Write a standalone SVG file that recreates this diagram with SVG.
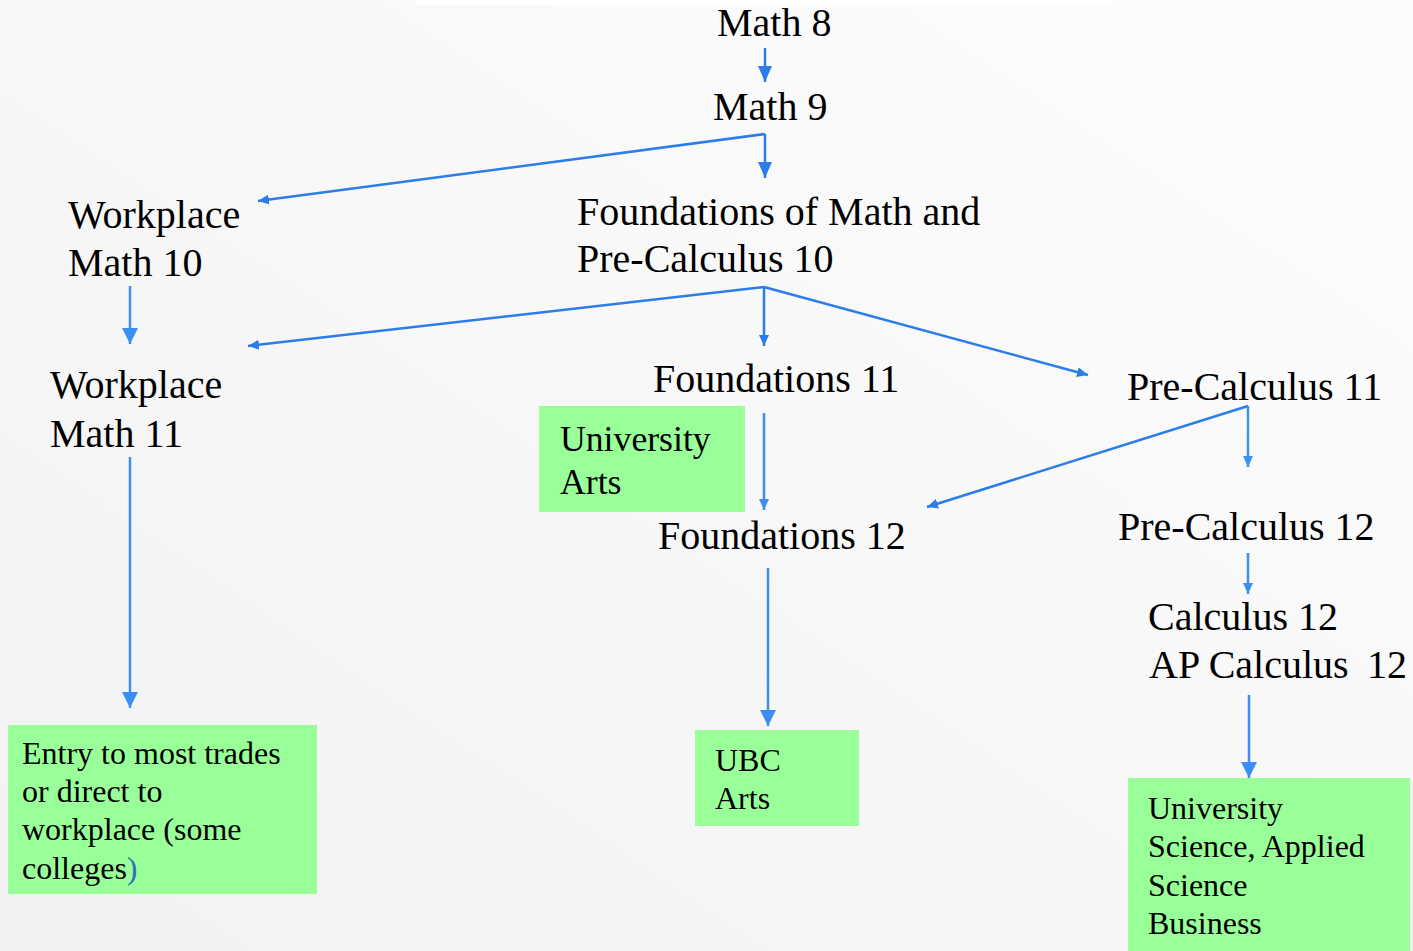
<svg xmlns="http://www.w3.org/2000/svg" width="1413" height="951" viewBox="0 0 1413 951">
<defs>
<linearGradient id="bg" x1="1" y1="0" x2="0" y2="1">
<stop offset="0" stop-color="#fdfdfd"/>
<stop offset="1" stop-color="#f2f2f2"/>
</linearGradient>
<marker id="ah" markerUnits="userSpaceOnUse" markerWidth="17" markerHeight="14" refX="16" refY="7" orient="auto">
<path d="M0,0 L16,7 L0,14 Z" fill="#2b7de9"/>
</marker>
<marker id="as" markerUnits="userSpaceOnUse" markerWidth="12" markerHeight="10" refX="11" refY="5" orient="auto">
<path d="M0,0 L11,5 L0,10 Z" fill="#2b7de9"/>
</marker>
<marker id="al" markerUnits="userSpaceOnUse" markerWidth="17" markerHeight="16" refX="16" refY="8" orient="auto">
<path d="M0,0 L16,8 L0,16 Z" fill="#3d8ef2"/>
</marker>
<marker id="als" markerUnits="userSpaceOnUse" markerWidth="12" markerHeight="10" refX="11" refY="5" orient="auto">
<path d="M0,0 L11,5 L0,10 Z" fill="#3d8ef2"/>
</marker>
</defs>
<style>
.t{font-family:"Liberation Serif","Times New Roman",serif;font-size:40px;fill:#000}
.s{font-family:"Liberation Serif","Times New Roman",serif;font-size:32px;fill:#000}
.u{font-family:"Liberation Serif","Times New Roman",serif;font-size:35.7px;fill:#000}
.box{fill:#99ff99}
.c{stroke:#2b7de9;stroke-width:2.5;fill:none}
.cl{stroke:#3d8ef2;stroke-width:2.5;fill:none}
</style>
<rect width="1413" height="951" fill="url(#bg)"/>
<rect x="415" y="0" width="698" height="5" fill="#ffffff"/>

<g id="connectors">
<line class="c" x1="765" y1="48" x2="765" y2="82" marker-end="url(#ah)"/>
<line class="c" x1="765" y1="134" x2="258" y2="201" marker-end="url(#as)"/>
<line class="c" x1="765" y1="134" x2="765" y2="178" marker-end="url(#ah)"/>
<line class="cl" x1="130" y1="286" x2="130" y2="344" marker-end="url(#al)"/>
<line class="c" x1="764" y1="287" x2="248" y2="346" marker-end="url(#as)"/>
<line class="c" x1="764" y1="287" x2="764" y2="346" marker-end="url(#as)"/>
<line class="c" x1="764" y1="287" x2="1088" y2="375" marker-end="url(#as)"/>
<line class="cl" x1="764" y1="413" x2="764" y2="510" marker-end="url(#als)"/>
<line class="c" x1="1248" y1="406" x2="927" y2="507" marker-end="url(#as)"/>
<line class="cl" x1="1248" y1="406" x2="1248" y2="467" marker-end="url(#als)"/>
<line class="cl" x1="1248" y1="553" x2="1248" y2="594" marker-end="url(#als)"/>
<line class="cl" x1="130" y1="457" x2="130" y2="708" marker-end="url(#al)"/>
<line class="cl" x1="768" y1="568" x2="768" y2="726" marker-end="url(#al)"/>
<line class="cl" x1="1249" y1="695" x2="1249" y2="778" marker-end="url(#al)"/>
</g>

<g id="math8"><text class="t" x="717" y="36">Math 8</text></g>
<g id="math9"><text class="t" x="713" y="120">Math 9</text></g>
<g id="workplace10"><text class="t" x="68" y="228">Workplace</text><text class="t" x="68" y="276">Math 10</text></g>
<g id="foundations10"><text class="t" x="577" y="225">Foundations of Math and</text><text class="t" x="577" y="272">Pre-Calculus 10</text></g>
<g id="workplace11"><text class="t" x="50" y="398">Workplace</text><text class="t" x="50" y="447">Math 11</text></g>
<g id="foundations11"><text class="t" x="653" y="392">Foundations 11</text></g>
<g id="precalc11"><text class="t" x="1127" y="400">Pre-Calculus 11</text></g>
<g id="univarts"><rect class="box" x="539" y="406" width="206" height="106"/><text class="u" x="560" y="451">University</text><text class="u" x="560" y="494">Arts</text></g>
<g id="foundations12"><text class="t" x="658" y="549">Foundations 12</text></g>
<g id="precalc12"><text class="t" x="1118" y="540">Pre-Calculus 12</text></g>
<g id="calculus12"><text class="t" x="1148" y="630">Calculus 12</text><text class="t" x="1149" y="678">AP Calculus <tspan x="1367">12</tspan></text></g>
<g id="entry"><rect class="box" x="8" y="725" width="309" height="169"/><text class="s" x="22" y="764">Entry to most trades</text><text class="s" x="22" y="802">or direct to</text><text class="s" x="22" y="840">workplace (some</text><text class="s" x="22" y="879">colleges<tspan fill="#2f6fb8">)</tspan></text></g>
<g id="ubcarts"><rect class="box" x="695" y="730" width="164" height="96"/><text class="s" x="715" y="771">UBC</text><text class="s" x="715" y="809">Arts</text></g>
<g id="univscience"><rect class="box" x="1128" y="778" width="282" height="173"/><text class="s" x="1148" y="819">University</text><text class="s" x="1148" y="857">Science, Applied</text><text class="s" x="1148" y="896">Science</text><text class="s" x="1148" y="934">Business</text></g>
</svg>
